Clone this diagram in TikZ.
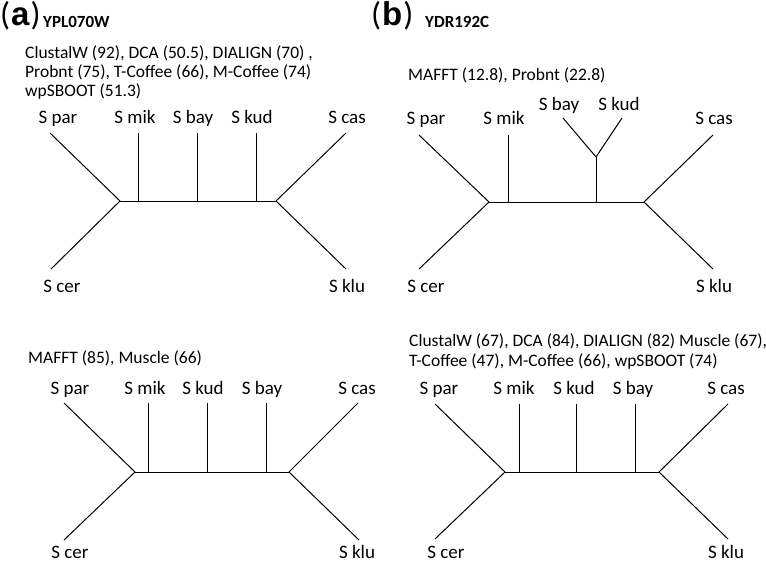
\documentclass[tikz,border=0pt]{standalone}
\usepackage{fontspec}
\setmainfont{Carlito}
\newfontfamily\hdfont{Liberation Sans}
\begin{document}
\begin{tikzpicture}[x=1pt,y=-1pt,
  branch/.style={draw=black, line width=1pt},
  taxon/.style={font=\fontsize{19}{22}\selectfont, anchor=base, inner sep=0pt},
  info/.style={font=\fontsize{17.5}{19.5}\selectfont, anchor=base west, inner sep=0pt},
  panel/.style={font=\fontsize{33}{33}\selectfont, anchor=base west, inner sep=0pt},
  gene/.style={font=\bfseries\fontsize{17}{19}\selectfont, anchor=base west, inner sep=0pt}]
\useasboundingbox (0,0) rectangle (766,563);

% ===== headers =====
\node[panel] (pa) at (0,25) {(\kern1pt{\hdfont\bfseries a}\kern1pt)};
\node[gene] (ga) at (43,27) {YPL070W};
\node[panel] (pb) at (371,25) {(\kern1pt{\hdfont\bfseries b}\kern1pt)};
\node[gene] (gb) at (425,27) {YDR192C};

% ===== panel a, top tree =====
\node[info] (a1t1) at (25,58) {ClustalW (92), DCA (50.5), DIALIGN (70) ,};
\node[info] (a1t2) at (25,77) {Probnt (75), T-Coffee (66), M-Coffee (74)};
\node[info] (a1t3) at (25,96) {wpSBOOT (51.3)};
\coordinate (a1L) at (120,201);
\coordinate (a1R) at (276,201);
\coordinate (a1par) at (50,133);
\coordinate (a1cer) at (51,269);
\coordinate (a1cas) at (346,133);
\coordinate (a1klu) at (346,269);
\coordinate (a1mikT) at (138,133); \coordinate (a1mikB) at (138,201);
\coordinate (a1bayT) at (197,133); \coordinate (a1bayB) at (197,201);
\coordinate (a1kudT) at (256,133); \coordinate (a1kudB) at (256,201);
\draw[branch] (a1par) -- (a1L) -- (a1cer);
\draw[branch] (a1L) -- (a1R);
\draw[branch] (a1cas) -- (a1R) -- (a1klu);
\draw[branch] (a1mikT) -- (a1mikB);
\draw[branch] (a1bayT) -- (a1bayB);
\draw[branch] (a1kudT) -- (a1kudB);
\node[taxon] (a1npar) at (58,123) {S par};
\node[taxon] (a1nmik) at (135,123) {S mik};
\node[taxon] (a1nbay) at (193,123) {S bay};
\node[taxon] (a1nkud) at (252,123) {S kud};
\node[taxon] (a1ncas) at (347,123) {S cas};
\node[taxon] (a1ncer) at (62,292) {S cer};
\node[taxon] (a1nklu) at (347,292) {S klu};

% ===== panel b, top tree =====
\node[info] (b1t1) at (408,80) {MAFFT (12.8), Probnt (22.8)};
\coordinate (b1L) at (489,202);
\coordinate (b1R) at (644,202);
\coordinate (b1par) at (419,135);
\coordinate (b1cer) at (419,269);
\coordinate (b1cas) at (713,135);
\coordinate (b1klu) at (713,269);
\coordinate (b1mikT) at (508,135); \coordinate (b1mikB) at (508,202);
\coordinate (b1J) at (596,157); \coordinate (b1JB) at (596,202);
\coordinate (b1bay) at (563,118);
\coordinate (b1kud) at (622,118);
\draw[branch] (b1par) -- (b1L) -- (b1cer);
\draw[branch] (b1L) -- (b1R);
\draw[branch] (b1cas) -- (b1R) -- (b1klu);
\draw[branch] (b1mikT) -- (b1mikB);
\draw[branch] (b1bay) -- (b1J) -- (b1kud);
\draw[branch] (b1J) -- (b1JB);
\node[taxon] (b1npar) at (426,124) {S par};
\node[taxon] (b1nmik) at (504,124) {S mik};
\node[taxon] (b1nbay) at (559,110) {S bay};
\node[taxon] (b1nkud) at (619,110) {S kud};
\node[taxon] (b1ncas) at (714,124) {S cas};
\node[taxon] (b1ncer) at (426,292) {S cer};
\node[taxon] (b1nklu) at (714,292) {S klu};

% ===== panel a, bottom tree =====
\node[info] (a2t1) at (28,363) {MAFFT (85), Muscle (66)};
\coordinate (a2L) at (135,472);
\coordinate (a2R) at (289,472);
\coordinate (a2par) at (64,403);
\coordinate (a2cer) at (64,540);
\coordinate (a2cas) at (358,403);
\coordinate (a2klu) at (359,540);
\coordinate (a2mikT) at (148,403); \coordinate (a2mikB) at (148,472);
\coordinate (a2kudT) at (207,403); \coordinate (a2kudB) at (207,472);
\coordinate (a2bayT) at (266,403); \coordinate (a2bayB) at (266,472);
\draw[branch] (a2par) -- (a2L) -- (a2cer);
\draw[branch] (a2L) -- (a2R);
\draw[branch] (a2cas) -- (a2R) -- (a2klu);
\draw[branch] (a2mikT) -- (a2mikB);
\draw[branch] (a2kudT) -- (a2kudB);
\draw[branch] (a2bayT) -- (a2bayB);
\node[taxon] (a2npar) at (70,394) {S par};
\node[taxon] (a2nmik) at (145,394) {S mik};
\node[taxon] (a2nkud) at (203,394) {S kud};
\node[taxon] (a2nbay) at (262,394) {S bay};
\node[taxon] (a2ncas) at (357,394) {S cas};
\node[taxon] (a2ncer) at (70,558) {S cer};
\node[taxon] (a2nklu) at (357,558) {S klu};

% ===== panel b, bottom tree =====
\node[info] (b2t1) at (409,346) {ClustalW (67), DCA (84), DIALIGN (82) Muscle (67),};
\node[info] (b2t2) at (409,366) {T-Coffee (47), M-Coffee (66), wpSBOOT (74)};
\coordinate (b2L) at (505,472);
\coordinate (b2R) at (659,472);
\coordinate (b2par) at (435,404);
\coordinate (b2cer) at (435,539);
\coordinate (b2cas) at (728,404);
\coordinate (b2klu) at (728,539);
\coordinate (b2mikT) at (519,404); \coordinate (b2mikB) at (519,472);
\coordinate (b2kudT) at (576,404); \coordinate (b2kudB) at (576,472);
\coordinate (b2bayT) at (635,404); \coordinate (b2bayB) at (635,472);
\draw[branch] (b2par) -- (b2L) -- (b2cer);
\draw[branch] (b2L) -- (b2R);
\draw[branch] (b2cas) -- (b2R) -- (b2klu);
\draw[branch] (b2mikT) -- (b2mikB);
\draw[branch] (b2kudT) -- (b2kudB);
\draw[branch] (b2bayT) -- (b2bayB);
\node[taxon] (b2npar) at (439,394) {S par};
\node[taxon] (b2nmik) at (514,394) {S mik};
\node[taxon] (b2nkud) at (574,394) {S kud};
\node[taxon] (b2nbay) at (633,394) {S bay};
\node[taxon] (b2ncas) at (726,394) {S cas};
\node[taxon] (b2ncer) at (446,558) {S cer};
\node[taxon] (b2nklu) at (726,558) {S klu};
\end{tikzpicture}
\end{document}
